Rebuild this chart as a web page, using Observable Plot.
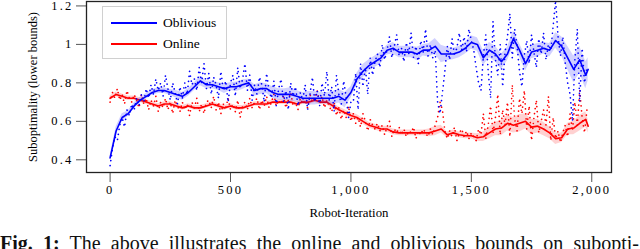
<!DOCTYPE html>
<html>
<head>
<meta charset="utf-8">
<script src="https://cdn.jsdelivr.net/npm/d3@7"></script>
<script src="https://cdn.jsdelivr.net/npm/@observablehq/plot@0.6"></script>
<style>
  html, body { margin: 0; padding: 0; background: #fff; overflow: hidden; }
  #wrap { position: relative; width: 640px; }
  #chart svg { display: block; }
  #chart [aria-label$="tick label"] text { letter-spacing: 2.2px; }
  #legend { position: absolute; left: 102px; top: 6px; width: 123px; height: 51px;
            border: 1px solid #d0d0d0; background: #fff; font-family: "Liberation Serif", serif; font-size: 13.5px; }
  #legend .row { position: absolute; left: 8px; height: 16px; display: flex; align-items: center; }
  #legend .sw { width: 46px; height: 2px; margin-right: 6px; }
  #cap { font-family: "Liberation Serif", serif; font-size: 20px; line-height: 20px; white-space: nowrap; margin-top: 7px; color: #111; }
</style>
</head>
<body>
<div id="wrap">
  <div id="chart"></div>
  <div id="legend">
    <div class="row" style="top:8px"><div class="sw" style="background:#0000ff"></div><span>Oblivious</span></div>
    <div class="row" style="top:29px"><div class="sw" style="background:#ff0000"></div><span>Online</span></div>
  </div>
  <div id="cap"><span id="capText"><b>Fig. 1:</b> The above illustrates the online and oblivious bounds on subopti-</span></div>
</div>
<script>
// ---- data ----
const seriesNames = ["Oblivious", "Online"];
const xTicks = [0, 500, 1000, 1500, 2000];
const yTicks = [0.4, 0.6, 0.8, 1, 1.2];
const xLabel = "Robot-Iteration";
const yLabel = "Suboptimality (lower bounds)";

// smoothed means every 25 iterations (0..1975) plus final 1985
const smoothIter = [...d3.range(0, 1976, 25), 1985];
const obliviousMean = [
  0.41,0.55,0.62,0.64,0.68,0.71,0.73,0.75,0.76,0.76,0.75,0.74,
  0.73,0.75,0.78,0.81,0.79,0.79,0.78,0.77,0.78,0.78,0.79,0.80,
  0.76,0.77,0.77,0.75,0.74,0.74,0.74,0.73,0.72,0.72,0.72,0.72,
  0.72,0.72,0.73,0.71,0.75,0.82,0.86,0.89,0.91,0.93,0.97,0.98,
  0.96,0.96,0.96,0.95,0.97,0.97,0.99,0.95,0.95,0.95,0.96,0.98,
  1.01,1.00,0.93,0.97,0.95,0.91,0.95,1.03,0.97,0.90,0.96,0.97,
  0.98,0.97,1.02,0.99,0.93,0.87,0.92,0.84,
  0.87];
const obliviousBand = [
  0.01,0.02,0.02,0.015,0.015,0.015,0.015,0.015,0.015,0.015,0.015,0.02,
  0.02,0.02,0.02,0.025,0.02,0.02,0.02,0.025,0.02,0.025,0.025,0.02,
  0.03,0.03,0.025,0.03,0.03,0.03,0.035,0.03,0.03,0.035,0.035,0.03,
  0.03,0.035,0.035,0.04,0.03,0.03,0.035,0.03,0.03,0.03,0.025,0.03,
  0.03,0.03,0.03,0.035,0.03,0.035,0.04,0.045,0.035,0.03,0.03,0.03,
  0.035,0.035,0.04,0.04,0.04,0.04,0.035,0.04,0.035,0.04,0.035,0.035,
  0.03,0.035,0.04,0.05,0.06,0.07,0.07,0.07,
  0.06];
const onlineMean = [
  0.72,0.74,0.73,0.72,0.72,0.71,0.70,0.69,0.68,0.69,0.69,0.68,
  0.67,0.68,0.67,0.67,0.68,0.69,0.68,0.67,0.68,0.67,0.67,0.68,
  0.69,0.69,0.69,0.70,0.70,0.70,0.70,0.69,0.70,0.70,0.71,0.70,
  0.70,0.68,0.66,0.645,0.63,0.62,0.60,0.58,0.57,0.56,0.56,0.545,
  0.54,0.54,0.54,0.54,0.54,0.54,0.55,0.56,0.53,0.54,0.53,0.525,
  0.525,0.515,0.52,0.54,0.56,0.565,0.59,0.58,0.59,0.60,0.57,0.575,
  0.56,0.54,0.51,0.515,0.56,0.565,0.59,0.61,
  0.575];
const onlineBand = [
  0.012,0.012,0.012,0.012,0.012,0.012,0.012,0.012,0.012,0.012,0.012,0.012,
  0.012,0.012,0.012,0.012,0.012,0.012,0.012,0.012,0.012,0.012,0.012,0.012,
  0.012,0.012,0.012,0.012,0.012,0.012,0.012,0.012,0.012,0.012,0.012,0.012,
  0.015,0.015,0.015,0.015,0.015,0.015,0.015,0.015,0.015,0.015,0.015,0.015,
  0.015,0.015,0.015,0.015,0.015,0.02,0.025,0.02,0.015,0.015,0.015,0.015,
  0.015,0.02,0.025,0.03,0.035,0.04,0.04,0.04,0.045,0.04,0.04,0.035,
  0.035,0.03,0.03,0.025,0.03,0.035,0.04,0.04,
  0.035];

// raw values every 10 iterations (0..1980)
const rawIter = d3.range(0, 1981, 10);
const obliviousRaw = [
  0.37,0.46,0.52,0.50,0.58,0.62,0.57,0.66,0.63,0.69,0.66,
  0.72,0.68,0.74,0.70,0.77,0.72,0.79,0.74,0.82,0.76,
  0.80,0.73,0.84,0.77,0.71,0.80,0.75,0.69,0.78,0.72,
  0.80,0.74,0.86,0.79,0.82,0.76,0.88,0.80,0.90,0.77,
  0.85,0.74,0.83,0.79,0.72,0.86,0.76,0.81,0.70,0.80,
  0.84,0.73,0.88,0.77,0.82,0.90,0.76,0.84,0.71,0.79,
  0.74,0.83,0.79,0.70,0.85,0.76,0.72,0.81,0.68,0.77,
  0.82,0.70,0.76,0.66,0.80,0.73,0.78,0.68,0.75,0.71,
  0.79,0.66,0.74,0.83,0.70,0.76,0.68,0.80,0.73,0.86,
  0.71,0.78,0.65,0.84,0.74,0.69,0.81,0.73,0.62,0.70,
  0.70,0.85,0.66,0.90,0.78,0.88,0.74,0.93,0.84,0.91,
  0.95,0.88,1.00,0.92,0.97,1.04,0.93,0.99,1.05,0.94,
  0.98,0.91,1.01,0.95,1.06,0.93,0.99,0.90,1.02,0.96,
  1.08,0.94,1.00,0.93,0.97,0.70,0.64,0.75,0.86,0.99,
  0.92,1.03,0.95,0.98,1.06,0.97,1.04,0.96,1.08,1.02,
  0.97,0.88,0.80,0.76,0.94,1.05,0.86,0.72,1.12,0.92,
  0.84,1.00,0.78,0.96,1.04,1.16,0.93,1.08,0.99,0.86,
  0.78,0.94,1.02,0.90,1.05,0.96,0.88,1.03,0.95,1.06,
  0.92,1.00,0.97,1.10,1.23,1.04,0.94,1.04,0.90,0.80,
  0.74,0.60,0.92,1.08,0.70,0.98,0.80,0.88];
const onlineRaw = [
  0.70,0.75,0.72,0.77,0.71,0.74,0.69,0.76,0.72,0.70,0.74,
  0.71,0.67,0.74,0.69,0.72,0.66,0.71,0.68,0.73,0.65,
  0.70,0.67,0.72,0.66,0.70,0.64,0.71,0.68,0.65,0.70,
  0.66,0.69,0.63,0.70,0.67,0.72,0.65,0.69,0.64,0.70,
  0.71,0.67,0.73,0.66,0.70,0.64,0.69,0.67,0.72,0.66,
  0.69,0.65,0.71,0.62,0.68,0.70,0.66,0.72,0.67,0.70,
  0.72,0.66,0.71,0.68,0.73,0.67,0.70,0.74,0.68,0.71,
  0.69,0.73,0.67,0.71,0.75,0.68,0.70,0.66,0.72,0.69,
  0.71,0.67,0.74,0.70,0.72,0.76,0.69,0.73,0.67,0.71,
  0.68,0.65,0.70,0.63,0.67,0.61,0.66,0.62,0.68,0.60,
  0.64,0.59,0.62,0.57,0.64,0.60,0.55,0.61,0.58,0.56,
  0.59,0.55,0.58,0.53,0.57,0.60,0.52,0.56,0.54,0.57,
  0.53,0.56,0.52,0.55,0.54,0.57,0.51,0.55,0.53,0.56,
  0.54,0.52,0.56,0.53,0.58,0.62,0.70,0.66,0.55,0.51,
  0.55,0.52,0.57,0.50,0.54,0.56,0.52,0.55,0.51,0.54,
  0.52,0.50,0.56,0.53,0.64,0.51,0.58,0.68,0.54,0.62,
  0.74,0.53,0.66,0.58,0.70,0.52,0.79,0.61,0.55,0.72,
  0.64,0.76,0.56,0.68,0.50,0.62,0.71,0.54,0.60,0.66,
  0.58,0.73,0.50,0.62,0.51,0.55,0.49,0.54,0.58,0.52,
  0.64,0.55,0.70,0.58,0.76,0.62,0.54,0.66];

const colors = {Oblivious: "#0000ff", Online: "#ff0000"};

// ---- tables ----
function smoothRows(name, mean, band) {
  return smoothIter.map((it, i) => ({series: name, it, mean: mean[i], lo: mean[i] - band[i], hi: mean[i] + band[i]}));
}
function rawRows(name, vals) {
  return rawIter.map((it, i) => ({series: name, it, v: vals[i]}));
}
const smoothOn = smoothRows(seriesNames[1], onlineMean, onlineBand);
const smoothOb = smoothRows(seriesNames[0], obliviousMean, obliviousBand);
const rawOn = rawRows(seriesNames[1], onlineRaw);
const rawOb = rawRows(seriesNames[0], obliviousRaw);

function layer(smooth, raw, color) {
  return [
    Plot.areaY(smooth, {x: "it", y1: "lo", y2: "hi", fill: color, fillOpacity: 0.18, clip: true}),
    Plot.line(raw, {x: "it", y: "v", stroke: color, strokeWidth: 1.7, strokeDasharray: "0.01 5", strokeLinecap: "round", clip: true}),
    Plot.line(smooth, {x: "it", y: "mean", stroke: color, strokeWidth: 1.6, clip: true})
  ];
}

const chart = Plot.plot({
  width: 640,
  height: 226,
  marginLeft: 86,
  marginRight: 29,
  marginTop: 1,
  marginBottom: 54,
  style: {fontFamily: "'Liberation Serif', serif", fontSize: "12.5px", background: "#fff", color: "#000"},
  x: {domain: [-98, 2082]},
  y: {domain: [0.334, 1.223]},
  marks: [
    ...layer(smoothOn, rawOn, colors.Online),
    ...layer(smoothOb, rawOb, colors.Oblivious),
    Plot.axisX({ticks: xTicks, tickFormat: d3.format(","), tickSize: 10, tickPadding: 3, stroke: "#555", label: null}),
    Plot.axisY({ticks: yTicks, tickFormat: d => String(d), tickSize: 10, tickPadding: 3, stroke: "#555", label: null}),
    Plot.frame({stroke: "#222", strokeWidth: 1.3}),
    Plot.text([yLabel], {frameAnchor: "left", dx: -54, rotate: -90, textAnchor: "middle", lineAnchor: "middle", fontSize: 12.5, fill: "#000"}),
    Plot.text([xLabel], {frameAnchor: "bottom", dy: 40, textAnchor: "middle", lineAnchor: "middle", fontSize: 12.8, fill: "#000"})
  ]
});
document.getElementById("chart").appendChild(chart);

// justify caption to the full width
const span = document.getElementById("capText");
const w = span.getBoundingClientRect().width;
const spaces = (span.textContent.match(/ /g) || []).length;
span.style.wordSpacing = ((639 - w) / spaces) + "px";
</script>
</body>
</html>
